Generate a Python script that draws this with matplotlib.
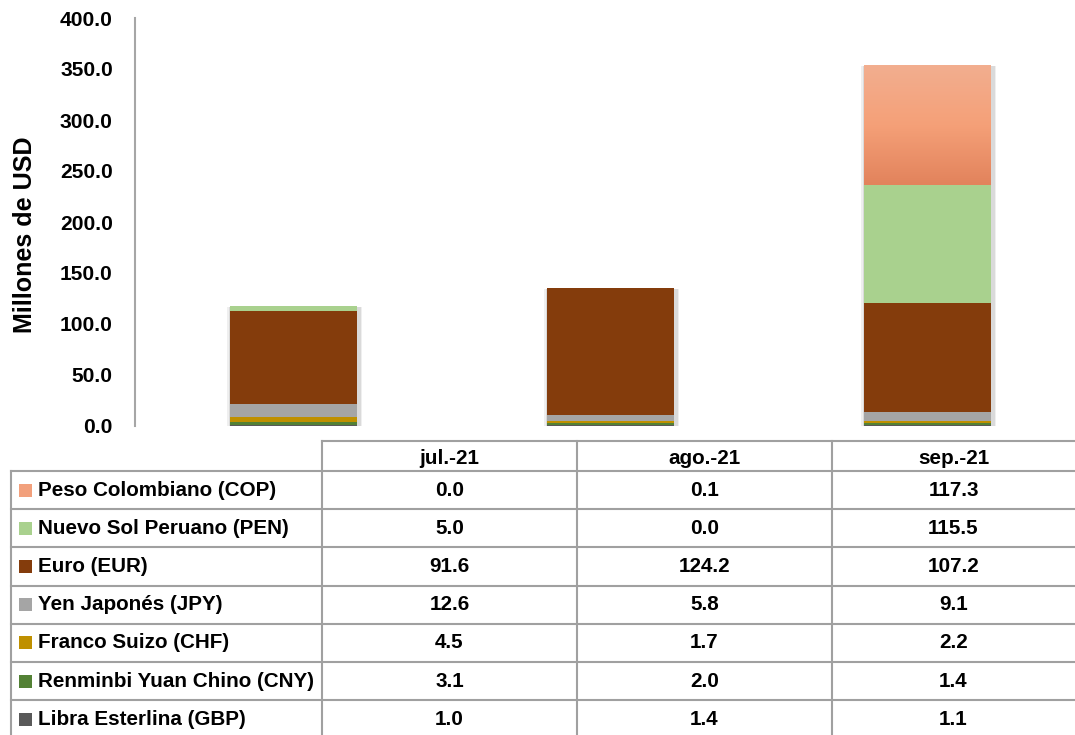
import matplotlib
matplotlib.use("Agg")
import matplotlib.pyplot as plt
from matplotlib.colors import LinearSegmentedColormap
import numpy as np

plt.rcParams["font.family"] = ["Liberation Sans", "DejaVu Sans"]
plt.rcParams["font.weight"] = "bold"

months = ["jul.-21", "ago.-21", "sep.-21"]
# table order (top to bottom)
series = ["Peso Colombiano (COP)", "Nuevo Sol Peruano (PEN)", "Euro (EUR)",
          "Yen Japonés (JPY)", "Franco Suizo (CHF)",
          "Renminbi Yuan Chino (CNY)", "Libra Esterlina (GBP)"]
cop = [0.0, 0.1, 117.3]
pen = [5.0, 0.0, 115.5]
eur = [91.6, 124.2, 107.2]
jpy = [12.6, 5.8, 9.1]
chf = [4.5, 1.7, 2.2]
cny = [3.1, 2.0, 1.4]
gbp = [1.0, 1.4, 1.1]
colors = ["#F2A07C", "#A9D18E", "#843C0C", "#A5A5A5", "#BF9000", "#538135", "#595959"]

values = [cop, pen, eur, jpy, chf, cny, gbp]

W, H = 1075, 735
fig = plt.figure(figsize=(W / 100, H / 100), dpi=100)
renderer = fig.canvas.get_renderer()


def fit_size(text, target_px):
    t = fig.text(0, 0, text, fontsize=10, fontweight="bold")
    bb = t.get_window_extent(renderer)
    t.remove()
    return 10 * target_px / bb.width


lab_fs = fit_size("Renminbi Yuan Chino (CNY)", 276)
tick_fs = fit_size("400.0", 53)
ylab_fs = fit_size("Millones de USD", 197)

# ---- chart ---------------------------------------------------------
ax = fig.add_axes([135 / W, 1 - 426 / H, (W - 135) / W, (426 - 18) / H])
x = np.arange(len(months))
totals = np.sum(values, axis=0)
# soft shadow behind each stacked bar
for k, a in [(0.425, 0.12), (0.415, 0.18)]:
    ax.bar(x + 0.004, totals, k, bottom=-1.2, color="#808080", alpha=a, linewidth=0, zorder=1)
bottom = np.zeros(len(months))
cop_cmap = LinearSegmentedColormap.from_list("cop", ["#E2835C", "#F5A078", "#F2AE8F"])
for vals, col in zip(values[::-1], colors[::-1]):
    bars = ax.bar(x, vals, 0.4, bottom=bottom, color=col, linewidth=0, zorder=2)
    if col == colors[0]:
        # vertical gradient fill like the original
        for b in bars:
            if b.get_height() <= 0:
                continue
            x0, y0 = b.get_x(), b.get_y()
            im = ax.imshow(np.linspace(0, 1, 100).reshape(-1, 1), cmap=cop_cmap, origin="lower",
                           extent=(x0, x0 + b.get_width(), y0, y0 + b.get_height()),
                           aspect="auto", zorder=3)
            im.set_clip_path(b)
    bottom += np.array(vals)

ax.set_xlim(-0.5, -0.5 + (W - 135) / 317)
ax.set_ylim(0, 400)
ticks = np.arange(0, 401, 50)
ax.set_yticks(ticks)
ax.set_yticklabels([f"{v:.1f}" for v in ticks], fontsize=tick_fs, fontweight="bold")
ax.tick_params(axis="y", length=0, pad=16)
ax.set_xticks([])
for s in ["top", "right", "bottom"]:
    ax.spines[s].set_visible(False)
ax.spines["left"].set_color("#A6A6A6")
ax.spines["left"].set_linewidth(1.5)
fig.text(25 / W, 1 - 235 / H, "Millones de USD", rotation=90, ha="center", va="center",
         fontsize=ylab_fs, fontweight="bold")

# ---- data table ----------------------------------------------------
tab = fig.add_axes([0, 0, 1, 1])
tab.set_xlim(0, W)
tab.set_ylim(H, 0)
tab.axis("off")
lc, lw = "#A0A0A0", 1.5
col_x = [322, 577, 832, W]
top, row0, rh = 441, 471, 38.2
nrows = len(series)
bottom_y = row0 + nrows * rh
tab.plot([col_x[0], W], [top, top], color=lc, lw=lw)
for cx in col_x[:-1]:
    tab.plot([cx, cx], [top, bottom_y], color=lc, lw=lw)
tab.plot([11, 11], [row0, bottom_y], color=lc, lw=lw)
for i in range(nrows + 1):
    y = row0 + i * rh
    tab.plot([11, W], [y, y], color=lc, lw=lw)
for j, m in enumerate(months):
    tab.text((col_x[j] + col_x[j + 1]) / 2, (top + row0) / 2 + 2, m,
             ha="center", va="center", fontsize=lab_fs, fontweight="bold")
for i, (name, vals, col) in enumerate(zip(series, values, colors)):
    yc = row0 + (i + 0.5) * rh
    tab.add_patch(plt.Rectangle((19, yc - 6.5), 13, 13, color=col, lw=0))
    tab.text(38, yc, name, ha="left", va="center", fontsize=lab_fs, fontweight="bold")
    for j, v in enumerate(vals):
        tab.text((col_x[j] + col_x[j + 1]) / 2, yc, f"{v:.1f}",
                 ha="center", va="center", fontsize=lab_fs, fontweight="bold")

fig.savefig("out.png", dpi=100)
